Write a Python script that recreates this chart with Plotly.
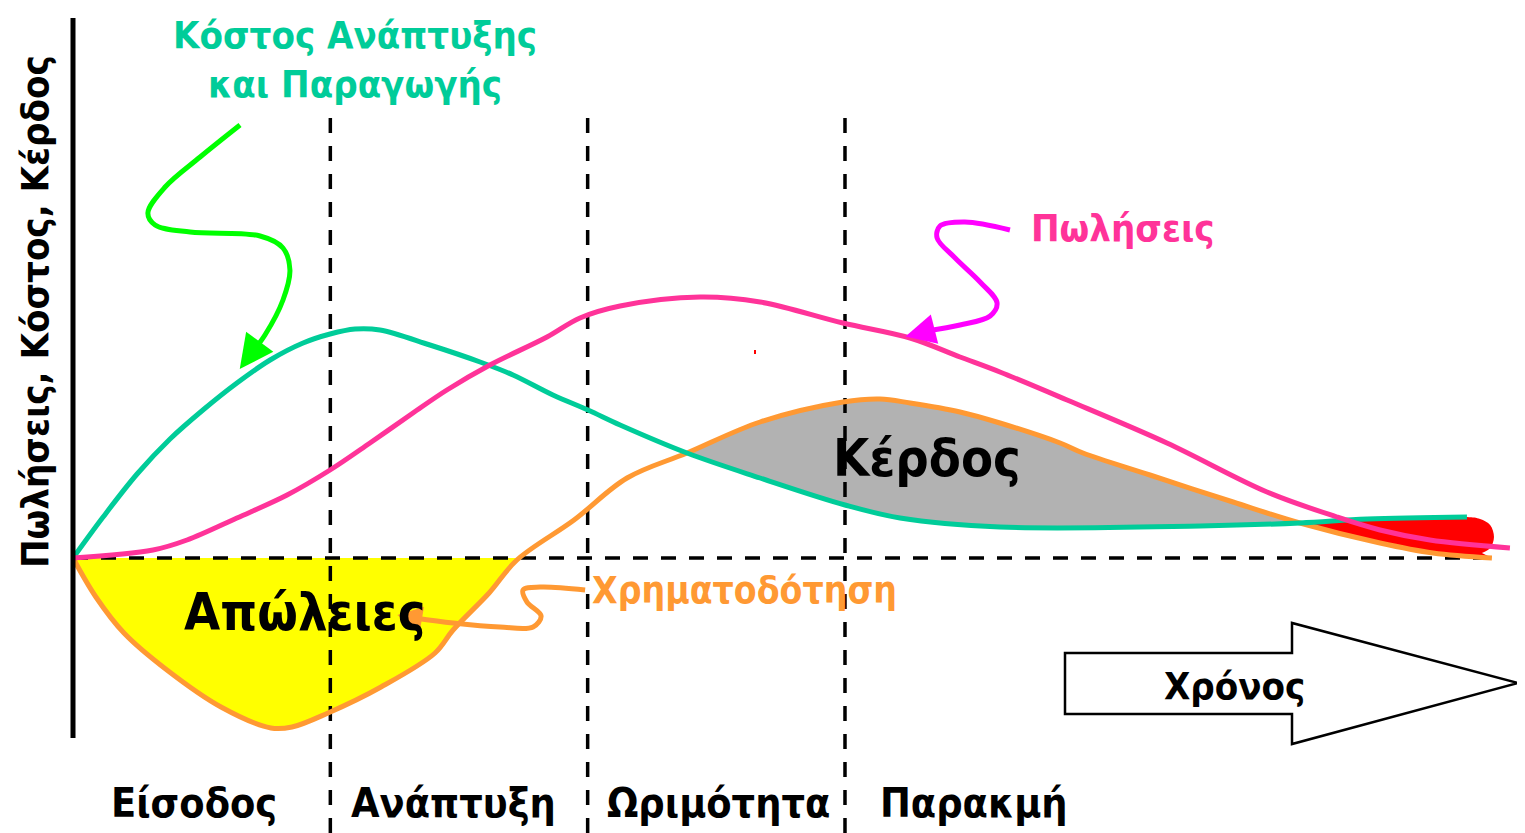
import plotly.graph_objects as go

W, H = 1525, 833
OFF = 8  # page margin of the browser body
FONT = "DejaVu Sans Condensed"

# ---- data (time: each life-cycle phase = 100 units; value: arbitrary units) ----
phase_bounds = [100, 200, 300]
phase_labels = ["Είσοδος", "Ανάπτυξη", "Ωριμότητα", "Παρακμή"]

cost_t = [0, 11.7, 24.9, 37.7, 50.5, 63.7, 76.6, 89.4, 99.9, 109.6, 119.3, 138.7, 158.2,
          171, 186.5, 200.1, 212.6, 238.6, 267, 300, 321.4, 360.2, 438, 476.8, 502.9, 541.7]
cost_v = [0, 16.4, 33.6, 47.6, 59.2, 70, 79.2, 86, 89.6, 91.6, 91.2, 85.2, 78.4,
          73.2, 65.2, 59.2, 53.2, 42, 32, 21.2, 16, 12.4, 12.8, 14, 15.6, 16.4]

sales_t = [0, 31.1, 44.3, 63.7, 83.2, 99.9, 115.4, 132.1, 145.3, 162, 184.2, 197, 212.6,
           243.7, 267, 299.2, 325.3, 344.7, 360.2, 386.3, 425.1, 464, 491.2, 507.9, 527.3, 558.4]
sales_v = [0, 3.2, 7.2, 16, 25.2, 35.2, 46, 58, 67.2, 77.2, 88.4, 96, 100.8,
           104.4, 102.4, 94, 88, 80.4, 74.4, 63.2, 46, 26.4, 16.4, 11.2, 7.2, 4]

fin_t = [0, 8.9, 19.8, 36.5, 57.5, 76.9, 85.1, 99.1, 119.7, 140.7, 147.7, 161.7, 172.5,
         194.7, 215.3, 238.6, 267, 299.2, 313.6, 325.3, 344.7, 360.2, 383.6, 392.5, 418.5,
         450.8, 476.8, 507.9, 528.5, 551.4]
fin_v = [0, -15.6, -30, -44.8, -59.6, -68, -67.6, -62, -51.6, -38, -28.8, -14, -0.8,
         15.2, 32, 42, 54.4, 62.4, 63.6, 62, 58.4, 54, 46, 42, 33.2,
         22.4, 14, 6, 2, 0]

# rounded end cap of the red (decline loss) region
red_cap_t = [546.8, 550.7, 552.2, 550.7, 547.5]
red_cap_v = [15.6, 13.2, 8.4, 4, 2]

# pointer squiggles (time, value)
green_t = [64.9, 49.4, 35.8, 29.1, 31.9, 45.5, 72.7, 81.6, 84.3, 81.6, 74.6, 68.8]
green_v = [173.2, 160.4, 148.4, 138, 133.2, 130.4, 128.8, 124, 115.2, 103.2, 89.2, 81.2]
green_tip = (64.8, 75.6)

mag_t = [364.1, 346.6, 336.9, 335.8, 342.8, 352.5, 359.1, 356.4, 344.7, 331.9]
mag_v = [131.2, 134.4, 132.8, 128, 120, 110.4, 102, 96.8, 93.2, 90.8]
mag_tip = (323.5, 88.6)

org_t = [199, 181.5, 174.9, 176.4, 181.9, 178.8, 165.9, 147.7, 132.9]
org_v = [-12.8, -11.6, -12.8, -17.6, -23.2, -27.6, -27.6, -26, -24]
org_tip = (126.0, -22.8)

C_COST = "#00CC99"
C_SALES = "#FF3399"
C_FIN = "#FF9933"

FW, FH = W - OFF, H - OFF
X_RANGE = [(OFF - 73) / 2.5733, (W - 73) / 2.5733]
Y_RANGE = [(558 - H) / 2.5, (558 - OFF) / 2.5]


def P(px, py):
    return (px - OFF) / FW, 1 - (py - OFF) / FH


def sub(ts, vs, lo, hi):
    pairs = [(t, v) for t, v in zip(ts, vs) if lo <= t <= hi]
    return [p[0] for p in pairs], [p[1] for p in pairs]


fig = go.Figure()
SPL = dict(shape="spline", smoothing=1.0)

# --- filled regions ---
yt, yv = sub(fin_t, fin_v, 0, 172.5)
fig.add_trace(go.Scatter(x=[0, 172.5], y=[0, 0], mode="lines", line=dict(width=0), hoverinfo="skip"))
fig.add_trace(go.Scatter(x=yt, y=yv, mode="lines", line=dict(width=0, **SPL), fill="tonexty",
                         fillcolor="#FFFF00", hoverinfo="skip"))
gt1, gv1 = sub(cost_t, cost_v, 238.6, 476.8)
gt2, gv2 = sub(fin_t, fin_v, 238.6, 476.8)
fig.add_trace(go.Scatter(x=gt1, y=gv1, mode="lines", line=dict(width=0, **SPL), hoverinfo="skip"))
fig.add_trace(go.Scatter(x=gt2, y=gv2, mode="lines", line=dict(width=0, **SPL), fill="tonexty",
                         fillcolor="#B2B2B2", hoverinfo="skip"))
rt1, rv1 = sub(cost_t, cost_v, 476.8, 560)
rt2, rv2 = sub(fin_t, fin_v, 476.8, 560)
fig.add_trace(go.Scatter(x=rt1 + red_cap_t, y=rv1 + red_cap_v, mode="lines",
                         line=dict(width=0, **SPL), hoverinfo="skip"))
fig.add_trace(go.Scatter(x=rt2, y=rv2, mode="lines", line=dict(width=0, **SPL), fill="tonexty",
                         fillcolor="#FF0000", hoverinfo="skip"))

# --- dashed guides ---
DASH = "15px,13px"
fig.add_trace(go.Scatter(x=[0, 554.5], y=[0, 0], mode="lines",
                         line=dict(color="black", width=3.5, dash=DASH), hoverinfo="skip"))
for b in phase_bounds:
    fig.add_trace(go.Scatter(x=[b, b], y=[Y_RANGE[0], 178.4], mode="lines",
                             line=dict(color="black", width=3.5, dash=DASH), hoverinfo="skip"))

# --- curves ---
fig.add_trace(go.Scatter(x=fin_t, y=fin_v, mode="lines", line=dict(color=C_FIN, width=5, **SPL)))
fig.add_trace(go.Scatter(x=cost_t, y=cost_v, mode="lines", line=dict(color=C_COST, width=5, **SPL)))
fig.add_trace(go.Scatter(x=sales_t, y=sales_v, mode="lines", line=dict(color=C_SALES, width=5, **SPL)))

# --- pointer squiggles ---
fig.add_trace(go.Scatter(x=green_t, y=green_v, mode="lines", line=dict(color="#00FF00", width=5, **SPL)))
fig.add_trace(go.Scatter(x=mag_t, y=mag_v, mode="lines", line=dict(color="#FF00FF", width=5, **SPL)))
fig.add_trace(go.Scatter(x=org_t, y=org_v, mode="lines", line=dict(color=C_FIN, width=5, **SPL)))

annotations = []
for (lt, lv, tip, col, sz) in [(green_t[-1], green_v[-1], green_tip, "#00FF00", 1.35),
                               (mag_t[-1], mag_v[-1], mag_tip, "#FF00FF", 1.2),
                               (org_t[-1], org_v[-1], org_tip, C_FIN, 1.0)]:
    annotations.append(dict(x=tip[0], y=tip[1], ax=lt, ay=lv, xref="x", yref="y",
                            axref="x", ayref="y", text="", showarrow=True,
                            arrowhead=2, arrowsize=sz, arrowwidth=5, arrowcolor=col))


def txt(s, px, py, size, color="black", angle=0):
    x, y = P(px, py)
    annotations.append(dict(x=x, y=y, xref="paper", yref="paper", text=s, showarrow=False,
                            xanchor="center", yanchor="middle", textangle=angle,
                            font=dict(family=FONT, size=size, color=color, weight="bold")))


txt("Κόστος Ανάπτυξης<br>και Παραγωγής", 355, 60, 38, C_COST)
txt("Πωλήσεις", 1123, 228, 38, C_SALES)
txt("Κέρδος", 927, 458, 52)
txt("Απώλειες", 305, 612, 52)
txt("Χρηματοδότηση", 744, 590, 37, C_FIN)
txt("Χρόνος", 1234, 686, 38)
for lab, c in zip(phase_labels, [194, 453, 718, 974]):
    txt(lab, c, 803, 41)
txt("Πωλήσεις, Κόστος, Κέρδος", 35, 312, 38, angle=-90)

shapes = []
x0, y0 = P(73, 18)
x1, y1 = P(73, 738)
shapes.append(dict(type="line", xref="paper", yref="paper", x0=x0, y0=y0, x1=x1, y1=y1,
                   line=dict(color="black", width=5)))
pts = [(1065, 653), (1292, 653), (1292, 623), (1518, 683), (1292, 744), (1292, 714), (1065, 714)]
path = "M " + " L ".join(f"{P(a, b)[0]},{P(a, b)[1]}" for a, b in pts) + " Z"
shapes.append(dict(type="path", xref="paper", yref="paper", path=path, fillcolor="white",
                   line=dict(color="black", width=2.5), layer="above"))
sx0, sy0 = P(754, 350)
sx1, sy1 = P(756, 354)
shapes.append(dict(type="rect", xref="paper", yref="paper", x0=sx0, y0=sy0, x1=sx1, y1=sy1,
                   fillcolor="#FF0000", line=dict(width=0)))

fig.update_layout(
    width=FW, height=FH, margin=dict(l=0, r=0, t=0, b=0),
    paper_bgcolor="white", plot_bgcolor="white", showlegend=False,
    xaxis=dict(range=X_RANGE, visible=False, fixedrange=True),
    yaxis=dict(range=Y_RANGE, visible=False, fixedrange=True),
    annotations=annotations, shapes=shapes,
)
fig.write_html("out.html")
